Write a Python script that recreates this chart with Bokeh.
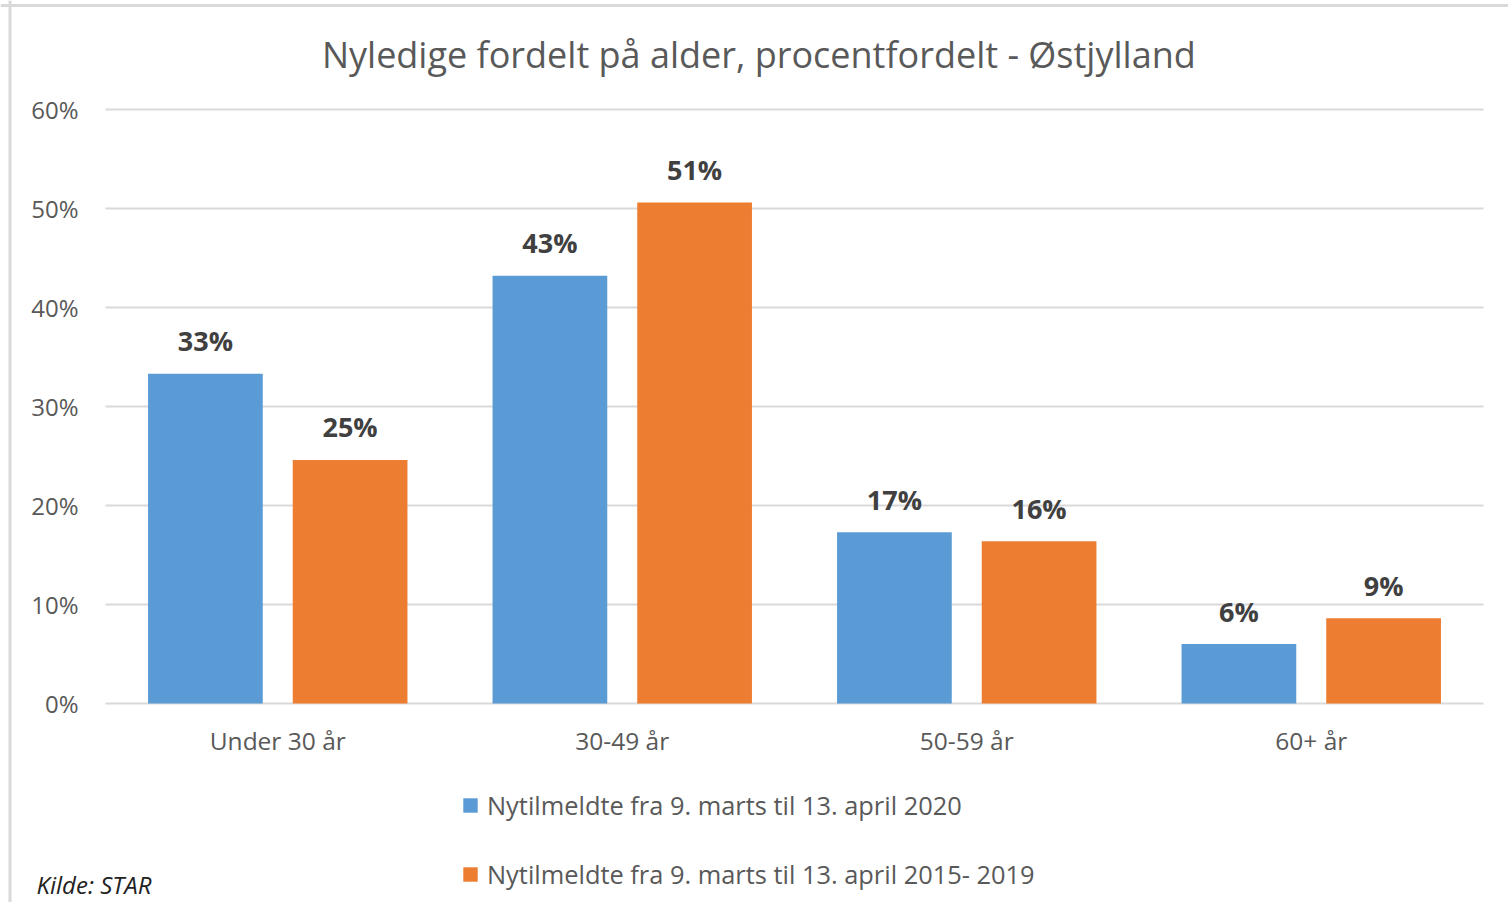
from bokeh.plotting import figure
from bokeh.models import (Range1d, Legend, LegendItem, ColumnDataSource, Span)
from bokeh.transform import dodge
from bokeh.embed import file_html
from bokeh.resources import INLINE
from bokeh.core.properties import value

# ---- data ----
categories = ["Under 30 år", "30-49 år", "50-59 år", "60+ år"]
series_2020 = [33.3, 43.2, 17.3, 6.0]
series_2015_2019 = [24.6, 50.6, 16.4, 8.6]
series_names = ["Nytilmeldte fra 9. marts til 13. april 2020",
                "Nytilmeldte fra 9. marts til 13. april 2015- 2019"]
y_ticks = [0, 10, 20, 30, 40, 50, 60]
y_tick_labels = ["0%", "10%", "20%", "30%", "40%", "50%", "60%"]
title_text = "Nyledige fordelt på alder, procentfordelt  - Østjylland"
source_text = "Kilde: STAR"

FONT = "Open Sans"
GRAY = "#595959"
BLUE = "#5B9BD5"
ORANGE = "#ED7D31"
GRID = "#d9d9d9"

W, H = 1508, 902
# pixel geometry of the plotting area inside the canvas
PX_LEFT, PX_RIGHT, PX_ZERO, PX_PER_UNIT = 105, 1483, 703, 9.9
cat_px = (PX_RIGHT - PX_LEFT) / len(categories)

x_range = Range1d(-PX_LEFT / cat_px, len(categories) + (W - PX_RIGHT) / cat_px)
y_range = Range1d(-(H - PX_ZERO) / PX_PER_UNIT, PX_ZERO / PX_PER_UNIT)

def px_to_x(px):
    return (px - PX_LEFT) / cat_px

def px_to_y(py):
    return (PX_ZERO - py) / PX_PER_UNIT

xc = [i + 0.5 for i in range(len(categories))]
src = ColumnDataSource(dict(
    cat=categories, xc=xc,
    v1=series_2020, v2=series_2015_2019,
    l1=[f"{v:.0f}%" for v in series_2020],
    l2=[f"{v:.0f}%" for v in series_2015_2019],
))
grid_src = ColumnDataSource(dict(
    y=y_ticks, lab=y_tick_labels,
    x0=[0] * len(y_ticks), x1=[len(categories)] * len(y_ticks),
))

p = figure(x_range=x_range, y_range=y_range, width=W, height=H,
           output_backend="svg", toolbar_location=None,
           x_axis_location=None, y_axis_location=None, min_border=0)
p.outline_line_color = None
p.xgrid.visible = False
p.ygrid.visible = False

# chart-area frame (light grey edge at left and top)
p.add_layout(Span(location=px_to_x(9.5), dimension="height",
                  line_color=GRID, line_width=3))
p.add_layout(Span(location=px_to_y(5), dimension="width",
                  line_color=GRID, line_width=3))

# gridlines + y tick labels
p.segment(x0="x0", x1="x1", y0="y", y1="y", source=grid_src,
          line_color=GRID, line_width=2)
p.text(x="x0", y="y", text="lab", source=grid_src, x_offset=-27,
       text_align="right", text_baseline="middle",
       text_font=value(FONT), text_font_size="24px", text_color=GRAY)

# bars
r1 = p.vbar(x=dodge("xc", -0.21), top="v1", width=0.333,
            source=src, fill_color=BLUE, line_color=None)
r2 = p.vbar(x=dodge("xc", 0.21), top="v2", width=0.333,
            source=src, fill_color=ORANGE, line_color=None)

# data labels
for col, yc, off in (("l1", "v1", -0.21), ("l2", "v2", 0.21)):
    p.text(x=dodge("xc", off), y=yc, text=col, source=src,
           text_align="center", text_baseline="middle", y_offset=-33,
           text_font=value(FONT), text_font_style="bold",
           text_font_size="27px", text_color="#404040")

# category labels
p.text(x="xc", y=0, text="cat", source=src, y_offset=37,
       text_align="center", text_baseline="middle",
       text_font=value(FONT), text_font_size="24.5px", text_color=GRAY)

# title
p.text(x=[px_to_x(763)], y=[px_to_y(54)], text=[title_text],
       text_align="center", text_baseline="middle",
       text_font=value(FONT), text_font_size="36px", text_color=GRAY)

# source note
p.text(x=[px_to_x(36)], y=[px_to_y(884)], text=[source_text],
       text_align="left", text_baseline="middle",
       text_font=value(FONT), text_font_style="italic",
       text_font_size="24px", text_color="#222222")

legend = Legend(items=[LegendItem(label=series_names[0], renderers=[r1]),
                       LegendItem(label=series_names[1], renderers=[r2])],
                orientation="vertical", location=(461, H - 891),
                border_line_color=None, background_fill_alpha=0,
                label_text_font=FONT, label_text_font_size="25.4px",
                label_text_color=GRAY, glyph_width=18, glyph_height=18,
                label_standoff=8, spacing=35, padding=0, margin=0,
                label_height=30)
p.add_layout(legend)

open("out.html", "w").write(file_html(p, INLINE))
